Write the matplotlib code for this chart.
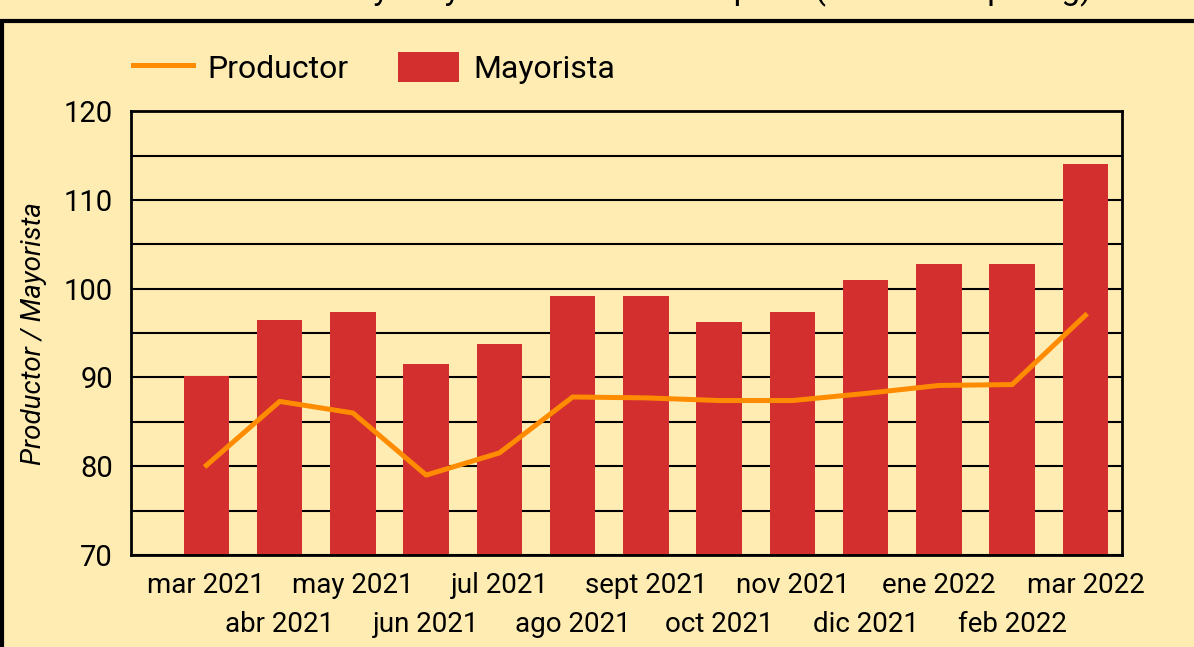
import matplotlib.pyplot as plt
import matplotlib.patches as mpatches
import numpy as np

plt.rcParams['font.family'] = ['Roboto', 'DejaVu Sans']

meses = ["mar 2021", "abr 2021", "may 2021", "jun 2021", "jul 2021", "ago 2021",
         "sept 2021", "oct 2021", "nov 2021", "dic 2021", "ene 2022", "feb 2022",
         "mar 2022"]
mayorista = [90.2, 96.5, 97.4, 91.5, 93.8, 99.2, 99.2, 96.2, 97.4, 101.0, 102.8, 102.8, 114.0]
productor = [80.1, 87.3, 86.0, 79.0, 81.5, 87.8, 87.7, 87.4, 87.4, 88.2, 89.1, 89.2, 97.0]

fondo = '#FFECB3'
rojo = '#D32F2F'
naranja = '#FF8C00'

fig = plt.figure(figsize=(11.94, 6.47), dpi=100, facecolor=fondo)
ax = fig.add_axes([0.1097, 0.1422, 0.830, 0.686])
ax.set_facecolor(fondo)

x = np.arange(len(meses))
ax.set_axisbelow(True)
linea, = ax.plot(x, productor, color=naranja, linewidth=3.6, label="Productor", zorder=3)
barras = ax.bar(x, mayorista, width=0.62, color=rojo, label="Mayorista", zorder=2)

ax.set_ylim(70, 120)
ax.set_xlim(-1.03, 12.5)
ax.set_yticks([70, 80, 90, 100, 110, 120])
ax.set_yticks([75, 85, 95, 105, 115], minor=True)
ax.grid(axis='y', which='both', color='black', linewidth=1.5)

# etiquetas alternadas en dos filas
ax.set_xticks(x[::2])
ax.set_xticklabels(meses[::2])
ax.set_xticks(x[1::2], minor=True)
ax.set_xticklabels(meses[1::2], minor=True)
ax.tick_params(axis='x', which='major', length=0, pad=12, labelsize=20)
ax.tick_params(axis='x', which='minor', length=0, pad=40, labelsize=20)
ax.tick_params(axis='y', which='both', length=0, pad=13, labelsize=21)

for s in ax.spines.values():
    s.set_linewidth(2)
    s.set_color('black')

ax.set_ylabel("Productor / Mayorista", fontsize=20, style='italic', labelpad=12)

fig.legend([linea, barras], ["Productor", "Mayorista"], loc='center left',
           bbox_to_anchor=(0.0871, 0.895), ncol=2, frameon=False, fontsize=23,
           handlelength=1.88, handleheight=1.06, columnspacing=1.55, handletextpad=0.47)

# marco exterior
fig.patches.append(mpatches.Rectangle((0.0015, -0.2), 1.2, 1.1675,
                                      transform=fig.transFigure, fill=False,
                                      edgecolor='black', linewidth=3))

# título (recortado en la imagen original)
fig.text(1092 / 1194, 1 + 1 / 647, "Precio Productor y Mayorista de carne de pollo (Bolivianos por kg)",
         ha='right', va='baseline', fontsize=24)

fig.savefig('out.png', dpi=100, facecolor=fondo)
